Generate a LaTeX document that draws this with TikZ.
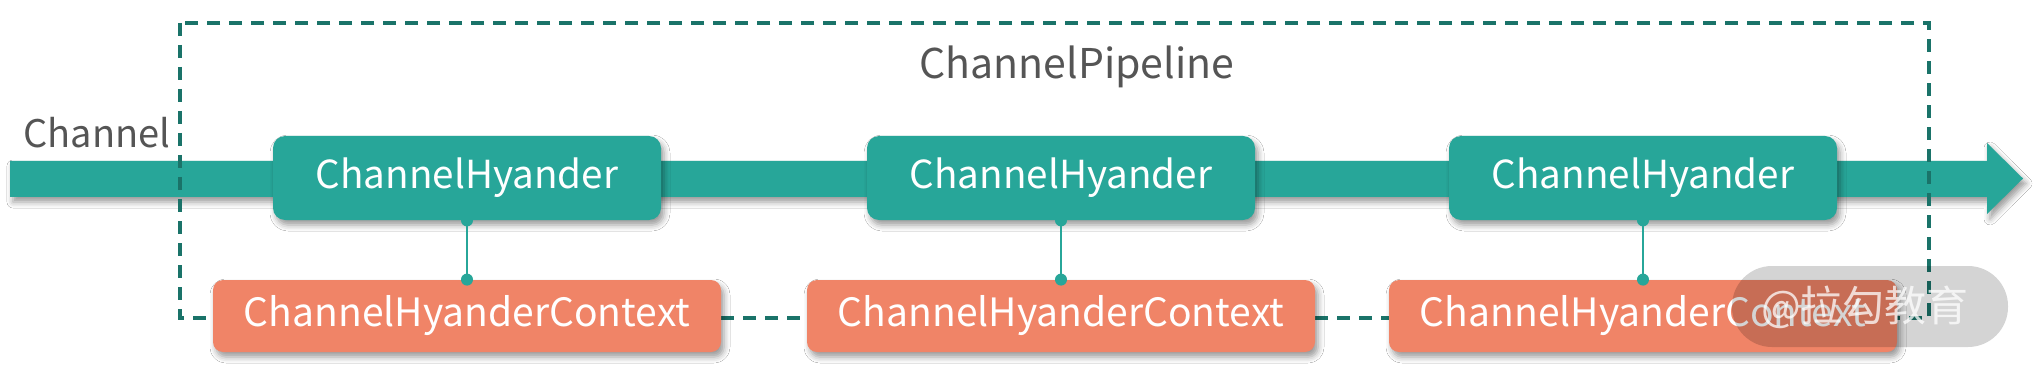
\documentclass[tikz,border=0pt]{standalone}
\usepackage{fontspec}
\setmainfont{Noto Sans CJK SC}
\usetikzlibrary{shadows.blur}
\definecolor{teal1}{RGB}{39,166,153}
\definecolor{dteal}{RGB}{26,115,105}
\definecolor{orng}{RGB}{240,132,103}
\definecolor{txtgray}{RGB}{85,85,85}
\begin{document}
\begin{tikzpicture}[x=0.5pt,y=-0.5pt,
  shd/.style={blur shadow={shadow xshift=1.5pt,shadow yshift=-2.5pt,shadow blur radius=3pt,shadow opacity=40}},
  hbox/.style={shd, fill=teal1, rounded corners=6pt, minimum width=194pt, minimum height=42pt, text=white, font=\fontsize{19.3}{24}\selectfont, inner sep=0pt},
  cbox/.style={shd, fill=orng, rounded corners=5pt, minimum width=254pt, minimum height=36pt, text=white, font=\fontsize{19.5}{24}\selectfont, inner sep=0pt},
  lbl/.style={text=txtgray, anchor=base},
  frame/.style={draw=dteal, line width=1.7pt, dash pattern=on 6.5pt off 4.5pt},
  link/.style={draw=teal1, line width=0.75pt}]
\useasboundingbox (0,0) rectangle (2036,374);
\fill[white] (0,0) rectangle (2036,374);
% band arrow
\fill[teal1, shd] (10,161) -- (1987,161) -- (1987,143) -- (2023,178.5) -- (1987,214) -- (1987,197) -- (10,197) -- cycle;
% pipeline frame
\draw[frame] (180,23) rectangle (1929,318);
% labels
\node[lbl, font=\fontsize{19}{24}\selectfont] (ch) at (97,148) {Channel};
\node[lbl, font=\fontsize{20.5}{24}\selectfont] (title) at (1077,79) {ChannelPipeline};
% handlers
\node[hbox] (h1) at (467,178) {ChannelHyander};
\node[hbox] (h2) at (1061,178) {ChannelHyander};
\node[hbox] (h3) at (1643,178) {ChannelHyander};
% contexts
\node[cbox] (c1) at (467,316) {ChannelHyanderContext};
\node[cbox] (c2) at (1061,316) {ChannelHyanderContext};
\node[cbox] (c3) at (1643,316) {ChannelHyanderContext};
% links
\foreach \i in {1,2,3}{
  \draw[link] (h\i.south) -- (c\i.north);
  \fill[teal1] (h\i.south) circle (3pt);
  \fill[teal1] (c\i.north) circle (3pt);
}
% watermark
\fill[black, opacity=0.17, rounded corners=20pt] (1732,266) rectangle (2008,347);
\node[text=white, text opacity=0.75, font=\fontsize{21}{24}\selectfont] (wm) at (1865,307) {@拉勾教育};
\end{tikzpicture}
\end{document}
